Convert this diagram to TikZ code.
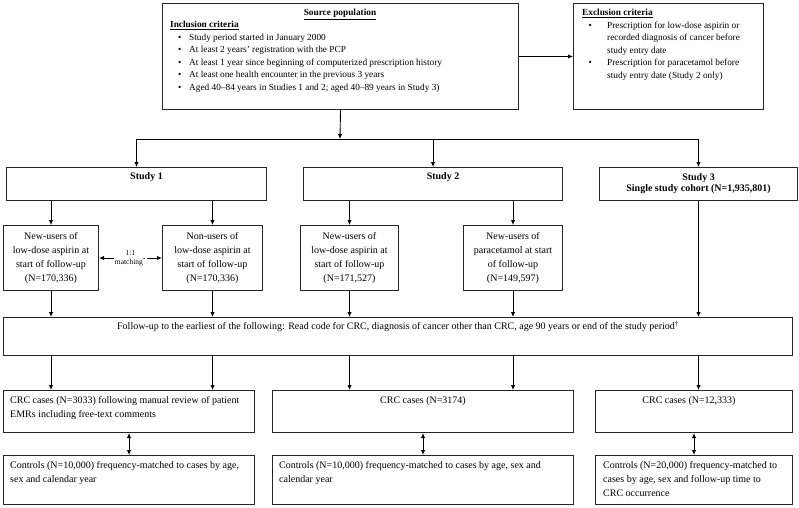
\documentclass[tikz,border=0pt]{standalone}
\usepackage{fontspec}
\setmainfont{Liberation Serif}
\usetikzlibrary{arrows.meta}
\newcommand{\bul}[2]{\makebox[#1]{\textbullet}\hspace*{#2}}

\begin{document}
\begin{tikzpicture}[x=1pt,y=-1pt,
  box/.style={draw=black!85,line width=1pt,anchor=north west,inner sep=0pt},
  txt/.style={inner sep=0pt,font=\fontsize{10}{13.7}\selectfont},
  small/.style={inner sep=0pt,font=\fontsize{9.3}{12.5}\selectfont},
  arr/.style={line width=0.9pt,-{Latex[length=5pt,width=4.5pt]}},
  dblarr/.style={line width=0.9pt,{Latex[length=5pt,width=4.5pt]}-{Latex[length=5pt,width=4.5pt]}}]
\useasboundingbox (0,0) rectangle (799,507);
% source population and exclusion criteria
\node[box,minimum width=356pt,minimum height=106pt] (src) at (162,3) {};
\node[small,anchor=base] (srctitle) at (340,15.5) {\textbf{\underline{Source population}}};
\node[small,anchor=north west,align=left] (incl) at (170,18.8) {\strut\textbf{\underline{Inclusion criteria}}\\
  \bul{19pt}{0pt}Study period started in January 2000\\
  \bul{19pt}{0pt}At least 2 years' registration with the PCP\\
  \bul{19pt}{0pt}At least 1 year since beginning of computerized prescription history\\
  \bul{19pt}{0pt}At least one health encounter in the previous 3 years\\
  \bul{19pt}{0pt}Aged 40--84 years in Studies 1 and 2; aged 40--89 years in Study 3)};
\node[box,minimum width=190pt,minimum height=106pt] (excl) at (573,3) {};
\node[small,anchor=north west,align=left] (excltext) at (582,6.75) {\strut\textbf{\underline{Exclusion criteria}}\\
  \bul{16pt}{9pt}Prescription for low-dose aspirin or\\
  \hspace*{25pt}recorded diagnosis of cancer before\\
  \hspace*{25pt}study entry date\\
  \bul{16pt}{9pt}Prescription for paracetamol before\\
  \hspace*{25pt}study entry date (Study 2 only)};
% studies
\node[box,minimum width=260pt,minimum height=33pt] (s1) at (6,167) {};
\node[txt,anchor=north] (s1text) at ([shift={(10,3)}]s1.north) {\strut\textbf{Study 1}};
\node[box,minimum width=259pt,minimum height=33pt] (s2) at (303,167) {};
\node[txt,anchor=north] (s2text) at ([shift={(10,3)}]s2.north) {\strut\textbf{Study 2}};
\node[box,minimum width=198pt,minimum height=33pt,align=center,font=\fontsize{10}{11}\selectfont\bfseries] (s3) at (599,167) {Study 3\\Single study cohort (N=1,935,801)};
% exposure groups
\node[box,txt,minimum width=95pt,minimum height=65pt,align=center] (nu1) at (3,225) {New-users of\\low-dose aspirin at\\start of follow-up\\(N=170,336)};
\node[box,txt,minimum width=100pt,minimum height=65pt,align=center] (non1) at (162,225) {Non-users of\\low-dose aspirin at\\start of follow-up\\(N=170,336)};
\node[box,txt,minimum width=98pt,minimum height=65pt,align=center] (nu2) at (300,225) {New-users of\\low-dose aspirin at\\start of follow-up\\(N=171,527)};
\node[box,txt,minimum width=99pt,minimum height=65pt,align=center] (para2) at (463,225) {New-users of\\paracetamol at start\\of follow-up\\(N=149,597)};
% follow-up
\node[box,minimum width=789pt,minimum height=38pt] (fu) at (3,317) {};
\node[txt,anchor=north] (futext) at ([shift={(0,3)}]fu.north) {\strut Follow-up to the earliest of the following: Read code for CRC, diagnosis of cancer other than CRC, age 90 years or end of the study period\textsuperscript{\textdagger}};
% cases
\node[box,minimum width=251pt,minimum height=42pt] (cc1) at (3,390) {};
\node[txt,anchor=north west,align=left] (cc1text) at ([shift={(7,3.6)}]cc1.north west) {\strut CRC cases (N=3033) following manual review of patient\\EMRs including free-text comments};
\node[box,minimum width=301pt,minimum height=42pt] (cc2) at (272,390) {};
\node[txt,anchor=north] (cc2text) at ([shift={(0,3.6)}]cc2.north) {\strut CRC cases (N=3174)};
\node[box,minimum width=197pt,minimum height=42pt] (cc3) at (595,390) {};
\node[txt,anchor=north] (cc3text) at ([shift={(-5,3.6)}]cc3.north) {\strut CRC cases (N=12,333)};
% controls
\node[box,minimum width=251pt,minimum height=49pt] (ct1) at (3,455) {};
\node[txt,anchor=north west,align=left] (ct1text) at ([shift={(7,4)}]ct1.north west) {\strut Controls (N=10,000) frequency-matched to cases by age,\\sex and calendar year};
\node[box,minimum width=301pt,minimum height=49pt] (ct2) at (272,455) {};
\node[txt,anchor=north west,align=left] (ct2text) at ([shift={(7,4)}]ct2.north west) {\strut Controls (N=10,000) frequency-matched to cases by age, sex and\\calendar year};
\node[box,minimum width=197pt,minimum height=49pt] (ct3) at (595,455) {};
\node[txt,anchor=north west,align=left] (ct3text) at ([shift={(8,4)}]ct3.north west) {\strut Controls (N=20,000) frequency-matched to\\cases by age, sex and follow-up time to\\CRC occurrence};
% connectors
\coordinate (hub) at (340,139);
\draw[arr] (src.east) -- (excl.west);
\draw[arr] (src.south) -- (hub);
\draw[line width=0.9pt] (s1.north |- hub) -- (s3.north |- hub);
\foreach \s in {s1,s2,s3} \draw[arr] (\s.north |- hub) -- (\s.north);
\foreach \b/\s in {nu1/s1,non1/s1,nu2/s2,para2/s2} \draw[arr] (\b.north |- \s.south) -- (\b.north);
\draw[dblarr] (nu1.east) -- (non1.west) node[midway,fill=white,inner sep=1pt,align=center,font=\fontsize{7.5}{9}\selectfont] (match) {1:1\\matching\textsuperscript{*}};
\foreach \b in {nu1,non1,nu2,para2,s3} \draw[arr] (\b.south) -- (\b.south |- fu.north);
\foreach \b/\c in {nu1/cc1,non1/cc1,nu2/cc2,para2/cc2,s3/cc3} \draw[arr] (\b.south |- fu.south) -- (\b.south |- \c.north);
\foreach \c/\k in {cc1/ct1,cc2/ct2,cc3/ct3} \draw[dblarr] (\c.south) -- (\k.north);
\end{tikzpicture}
\end{document}
